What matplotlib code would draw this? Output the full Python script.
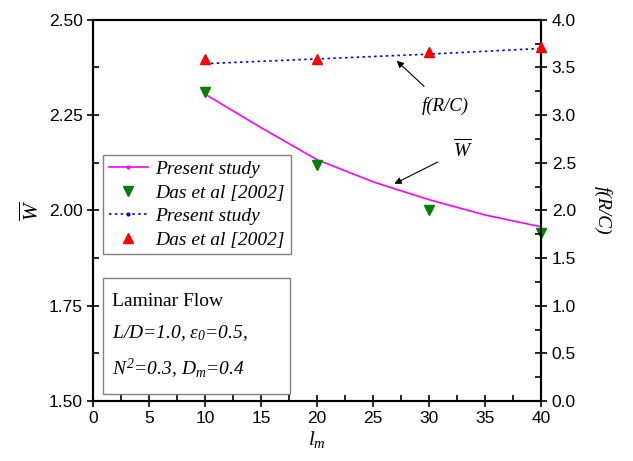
import matplotlib
matplotlib.use("Agg")
import matplotlib.pyplot as plt
from matplotlib.ticker import MultipleLocator, FormatStrFormatter
from matplotlib.patches import Rectangle

plt.rcParams['font.family'] = ['Liberation Sans', 'DejaVu Sans']
plt.rcParams['mathtext.fontset'] = 'custom'
plt.rcParams['mathtext.rm'] = 'Liberation Serif:italic'
plt.rcParams['mathtext.it'] = 'Liberation Serif:italic'

# Data
lm_line = [10, 15, 20, 25, 30, 35, 40]
W_present = [2.305, 2.217, 2.133, 2.075, 2.028, 1.988, 1.957]
lm_pts = [10, 20, 30, 40]
W_das = [2.31, 2.12, 2.00, 1.94]
f_present = [3.54, 3.59, 3.64, 3.70]
f_das = [3.59, 3.59, 3.66, 3.72]

serif_it = {'family': 'Liberation Serif', 'style': 'italic'}

fig = plt.figure(figsize=(6.33, 4.61), dpi=100)
ax = fig.add_axes([0.147, 0.130, 0.708, 0.827])
ax2 = ax.twinx()

l1, = ax.plot(lm_line, W_present, color='magenta', lw=1.2, label='Present study')
s1, = ax.plot(lm_pts, W_das, linestyle='none', marker='v', color='green', markersize=7,
              label='Das et al [2002]', clip_on=False, zorder=5)
l2, = ax2.plot(lm_pts, f_present, color='blue', lw=1.2, linestyle=(0, (1.5, 2)),
               label='Present study')
s2, = ax2.plot(lm_pts, f_das, linestyle='none', marker='^', color='red', markersize=7,
               label='Das et al [2002]', clip_on=False, zorder=5)

ax.set_xlim(0, 40)
ax.set_ylim(1.5, 2.5)
ax2.set_ylim(0.0, 4.0)

ax.xaxis.set_major_locator(MultipleLocator(5))
ax.xaxis.set_minor_locator(MultipleLocator(2.5))
ax.yaxis.set_major_locator(MultipleLocator(0.25))
ax.yaxis.set_minor_locator(MultipleLocator(0.125))
ax2.yaxis.set_major_locator(MultipleLocator(0.5))
ax2.yaxis.set_minor_locator(MultipleLocator(0.25))
ax.yaxis.set_major_formatter(FormatStrFormatter('%.2f'))
ax2.yaxis.set_major_formatter(FormatStrFormatter('%.1f'))

for a in (ax, ax2):
    a.tick_params(which='major', direction='inout', length=8, width=1.2, labelsize=12.5)
    a.tick_params(which='minor', direction='in', length=4, width=1.2)
    for sp in a.spines.values():
        sp.set_linewidth(1.5)
ax.tick_params(top=False, right=False, which='both')

ax.set_xlabel(r'$l_m$', fontsize=15, labelpad=2)
ax.set_ylabel(r'$\overline{W}$', fontsize=15, labelpad=4)
ax2.set_ylabel('f(R/C)', fontdict=serif_it, fontsize=14, rotation=270, labelpad=26)

# Annotations
ax2.annotate('f(R/C)', xy=(27.1, 3.57), xytext=(31.4, 3.10), fontsize=13.5,
             family='Liberation Serif', style='italic', ha='center', va='center',
             arrowprops=dict(arrowstyle='-|>', color='black', lw=0.8, mutation_scale=10,
                             shrinkA=8, shrinkB=0))
ax.annotate(r'$\overline{W}$', xy=(26.9, 2.07), xytext=(33.0, 2.16), fontsize=14,
            ha='center', va='center',
            arrowprops=dict(arrowstyle='-|>', color='black', lw=0.8, mutation_scale=10,
                            shrinkA=10, shrinkB=0))

# Legend
leg = ax.legend([l1, s1, l2, s2], ['Present study', 'Das et al [2002]', 'Present study',
                                    'Das et al [2002]'],
                loc='upper left', bbox_to_anchor=(0.022, 0.646), borderaxespad=0,
                prop={'family': 'Liberation Serif', 'style': 'italic', 'size': 14},
                fancybox=False, edgecolor='gray', framealpha=1, handlelength=2.0,
                labelspacing=0.3, borderpad=0.3, handletextpad=0.4)
leg.get_frame().set_linewidth(1.0)
leg.set_zorder(10)
for i in (0, 2):
    leg.legend_handles[i].set_marker('.')
    leg.legend_handles[i].set_markersize(4)

# Text box
rect = Rectangle((0.022, 0.018), 0.418, 0.305, transform=ax.transAxes, fill=True,
                 facecolor='white', edgecolor='gray', lw=1.0, zorder=9)
ax.add_patch(rect)
ax.text(0.042, 0.262, 'Laminar Flow', transform=ax.transAxes, fontsize=14,
        family='Liberation Serif', va='center', ha='left', zorder=10)
ax.text(0.042, 0.178, r'L/D=1.0, $\varepsilon_0$=0.5,', fontdict=serif_it,
        transform=ax.transAxes, fontsize=14, va='center', ha='left', zorder=10)
ax.text(0.042, 0.085, r'$N^2$=0.3, $D_m$=0.4', fontdict=serif_it,
        transform=ax.transAxes, fontsize=14, va='center', ha='left', zorder=10)

fig.savefig('out.png', dpi=100)
